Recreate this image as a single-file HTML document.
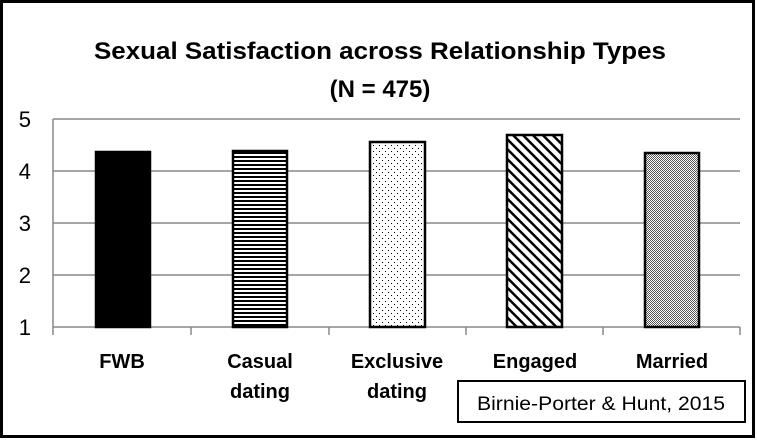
<!DOCTYPE html>
<html><head><meta charset="utf-8"><style>
html,body{margin:0;padding:0;background:#fff;}
body{width:757px;height:440px;overflow:hidden;}
</style></head><body>
<svg width="757" height="440" xmlns="http://www.w3.org/2000/svg" font-family="'Liberation Sans', sans-serif">
<defs>
<pattern id="hz" width="4" height="4" patternUnits="userSpaceOnUse"><rect width="4" height="4" fill="#fff"/><rect width="4" height="2" fill="#000"/></pattern>
<pattern id="dt" width="6" height="6" patternUnits="userSpaceOnUse"><rect width="6" height="6" fill="#fff"/><rect x="1" y="1" width="1" height="1" fill="#000"/><rect x="4" y="4" width="1" height="1" fill="#000"/></pattern>
<pattern id="dg" width="7" height="7" patternUnits="userSpaceOnUse" patternTransform="rotate(-45)"><rect width="7" height="7" fill="#fff"/><rect width="2.5" height="7" fill="#000"/></pattern>
<pattern id="ck" width="2" height="2" patternUnits="userSpaceOnUse"><rect width="2" height="2" fill="#fff"/><rect width="1" height="1" fill="#555"/><rect x="1" y="1" width="1" height="1" fill="#555"/></pattern>
</defs>
<rect x="1.5" y="1.5" width="752" height="435" fill="#fff" stroke="#000" stroke-width="3"/>
<text x="380" y="59" text-anchor="middle" font-size="24" font-weight="bold" textLength="572" lengthAdjust="spacingAndGlyphs">Sexual Satisfaction across Relationship Types</text>
<text x="380" y="97" text-anchor="middle" font-size="24" font-weight="bold">(N = 475)</text>
<g stroke="#888" stroke-width="1.5">
<line x1="53" y1="119" x2="740" y2="119"/><line x1="53" y1="171" x2="740" y2="171"/><line x1="53" y1="223" x2="740" y2="223"/><line x1="53" y1="275" x2="740" y2="275"/><line x1="53" y1="327" x2="740" y2="327"/>
<line x1="53" y1="119" x2="53" y2="327"/>
<line x1="53" y1="327" x2="53" y2="335"/><line x1="191" y1="327" x2="191" y2="335"/><line x1="329" y1="327" x2="329" y2="335"/><line x1="466" y1="327" x2="466" y2="335"/><line x1="603" y1="327" x2="603" y2="335"/><line x1="740" y1="327" x2="740" y2="335"/>
</g>
<g font-size="22" text-anchor="end"><text x="31" y="127">5</text><text x="31" y="179">4</text><text x="31" y="231">3</text><text x="31" y="283">2</text><text x="31" y="335">1</text></g>
<g stroke="#000" stroke-width="2.5">
<rect x="96" y="152" width="54" height="175" fill="#000"/>
<rect x="233" y="151" width="54" height="176" fill="url(#hz)"/>
<rect x="370" y="142" width="55" height="185" fill="url(#dt)"/>
<rect x="507" y="135" width="55" height="192" fill="url(#dg)"/>
<rect x="645" y="153" width="54" height="174" fill="url(#ck)"/>
</g>
<g font-size="20" font-weight="bold" text-anchor="middle">
<text x="122" y="368">FWB</text>
<text x="260" y="368">Casual</text><text x="260" y="398">dating</text>
<text x="397" y="368">Exclusive</text><text x="397" y="398">dating</text>
<text x="535" y="368">Engaged</text>
<text x="672" y="368">Married</text>
</g>
<rect x="458" y="381" width="287" height="41" fill="#fff" stroke="#000" stroke-width="2"/>
<text x="601" y="410" text-anchor="middle" font-size="19" textLength="248" lengthAdjust="spacingAndGlyphs">Birnie-Porter &amp; Hunt, 2015</text>
</svg>
</body></html>
